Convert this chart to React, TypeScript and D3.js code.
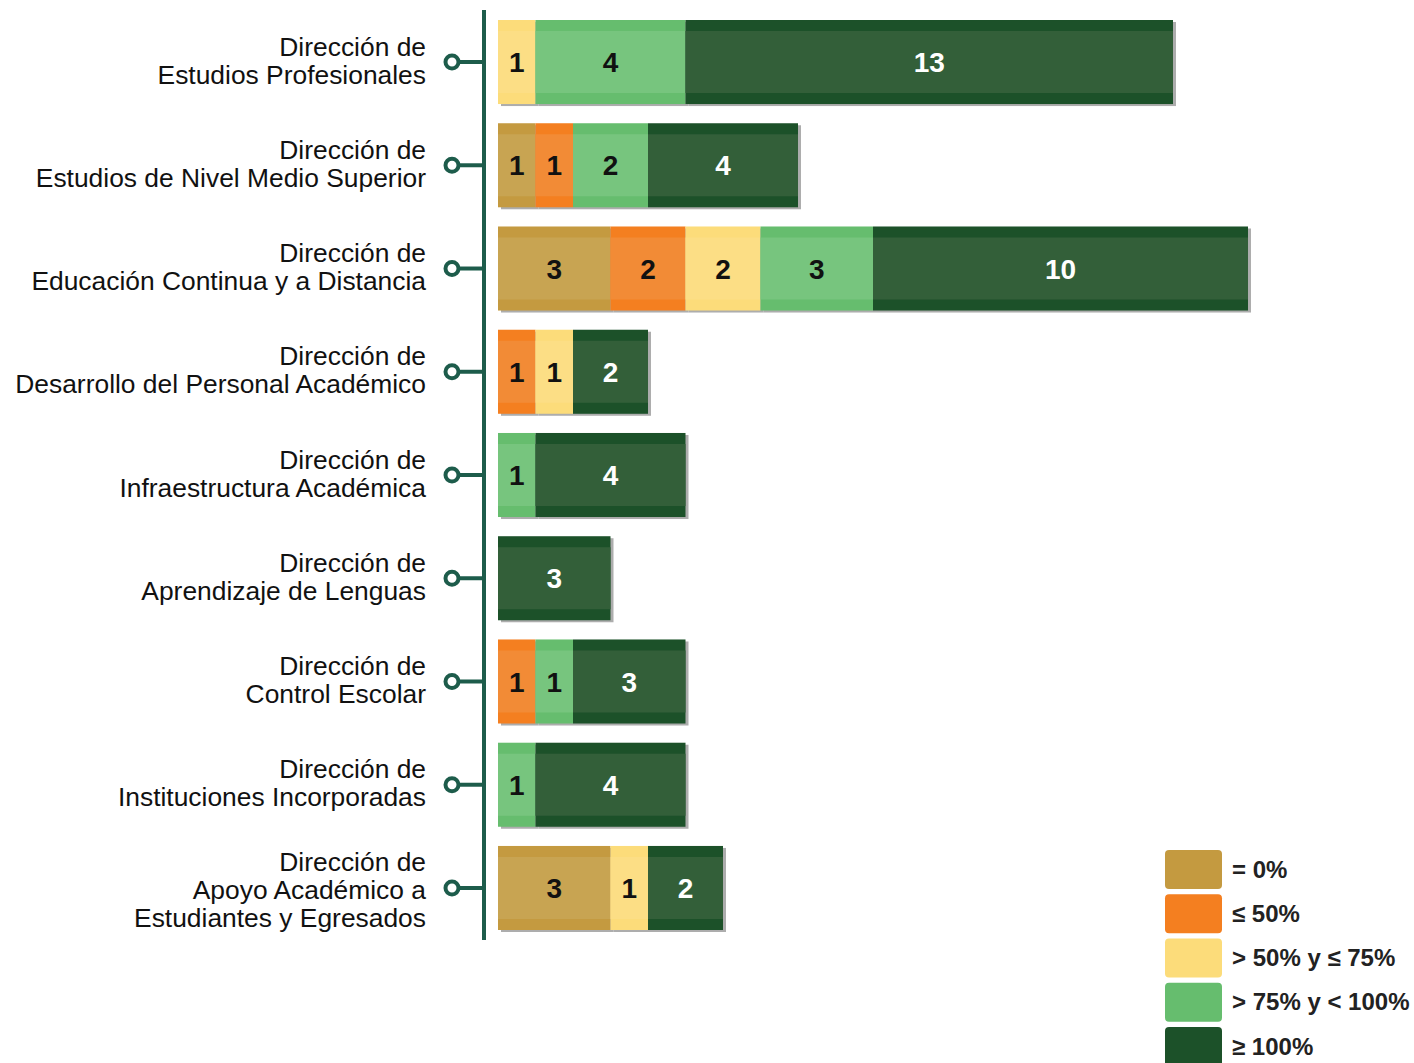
import * as d3 from 'd3'

// categories (rows) and their label lines
const units: string[][] = [
  ['Dirección de', 'Estudios Profesionales'],
  ['Dirección de', 'Estudios de Nivel Medio Superior'],
  ['Dirección de', 'Educación Continua y a Distancia'],
  ['Dirección de', 'Desarrollo del Personal Académico'],
  ['Dirección de', 'Infraestructura Académica'],
  ['Dirección de', 'Aprendizaje de Lenguas'],
  ['Dirección de', 'Control Escolar'],
  ['Dirección de', 'Instituciones Incorporadas'],
  ['Dirección de', 'Apoyo Académico a', 'Estudiantes y Egresados'],
]

// series, in stacking order
const levels = ['= 0%', '≤ 50%', '> 50% y ≤ 75%', '> 75% y < 100%', '≥ 100%']
const cero = [0, 1, 3, 0, 0, 0, 0, 0, 3]
const hasta50 = [0, 1, 2, 1, 0, 0, 1, 0, 0]
const hasta75 = [1, 0, 2, 1, 0, 0, 0, 0, 1]
const menos100 = [4, 2, 3, 0, 1, 0, 1, 1, 0]
const cien = [13, 4, 10, 2, 4, 3, 3, 4, 2]

const bandColors = ['#C49A40', '#F47F20', '#FCDC7A', '#66BD6E', '#1C5129']
const midColors = ['#C8A452', '#F28B36', '#FCDE85', '#77C57E', '#335F39']
const textColors = ['#111', '#111', '#111', '#111', '#fff']
const teal = '#1d5c4b'

export default function App() {
  const W = 1414, H = 1063
  const keys = units.map((_, i) => String(i))
  const table = units.map((_, i) => ({
    key: String(i),
    v: [cero[i], hasta50[i], hasta75[i], menos100[i], cien[i]],
  }))
  const stack = d3.stack<any, number>()
    .keys(d3.range(levels.length))
    .value((d, k) => d.v[k])
  const series = stack(table)

  const x = d3.scaleLinear().domain([0, 20]).range([498, 1248])
  const y = d3.scaleBand().domain(keys).range([20, 930]).paddingInner(0.186).paddingOuter(0)
  const bw = y.bandwidth()
  const band = 11

  const legendY = d3.scaleLinear().domain([0, 4]).range([850, 1027])

  return (
    <svg width={W} height={H} style={{ display: 'block', position: 'absolute', left: 0, top: 0 }}
      fontFamily="'Liberation Sans', Arial, sans-serif">
      <rect width={W} height={H} fill="#fff" />
      {/* vertical axis */}
      <line x1={484} x2={484} y1={10} y2={940} stroke={teal} strokeWidth={4} />
      {units.map((lines, i) => {
        const cy = (y(String(i)) as number) + bw / 2
        const lh = 28
        const shift = lines.length > 2 ? 2 : -2
        const top = cy + shift - ((lines.length - 1) * lh) / 2
        return (
          <g key={'lab' + i}>
            <line x1={459} x2={484} y1={cy} y2={cy} stroke={teal} strokeWidth={4} />
            <circle cx={452} cy={cy} r={6.5} fill="#fff" stroke={teal} strokeWidth={4} />
            <text textAnchor="end" fontSize={26.4} fill="#111">
              {lines.map((l, j) => (
                <tspan key={j} x={426} y={top + j * lh} dy="0.36em">{l}</tspan>
              ))}
            </text>
          </g>
        )
      })}
      {/* shadows */}
      {series.map((s, k) => s.map((d, i) => {
        const w = x(d[1]) - x(d[0])
        if (w <= 0) return null
        const y0 = y(String(i)) as number
        return <rect key={`sh${k}-${i}`} x={x(d[0]) + 3} y={y0 + 2} width={w} height={bw}
          fill="#999" opacity={0.8} />
      }))}
      {series.map((s, k) => s.map((d, i) => {
        const w = x(d[1]) - x(d[0])
        if (w <= 0) return null
        const y0 = y(String(i)) as number
        const x0 = x(d[0])
        return (
          <g key={`seg${k}-${i}`}>
            <rect x={x0} y={y0} width={w} height={bw} fill={bandColors[k]} />
            <rect x={x0} y={y0 + band} width={w} height={bw - 2 * band} fill={midColors[k]} />
            <text x={x0 + w / 2} y={y0 + bw / 2} dy="0.36em" textAnchor="middle"
              fontSize={28} fontWeight="bold" fill={textColors[k]}>{d[1] - d[0]}</text>
          </g>
        )
      }))}
      {/* legend */}
      {levels.map((l, k) => {
        const ly = legendY(k)
        return (
          <g key={'lg' + k}>
            <rect x={1165} y={ly} width={57} height={39} rx={4} fill={bandColors[k]} />
            <text x={1232} y={ly + 19} dy="0.36em" fontSize={24} fontWeight="bold" fill="#222">{l}</text>
          </g>
        )
      })}
    </svg>
  )
}
